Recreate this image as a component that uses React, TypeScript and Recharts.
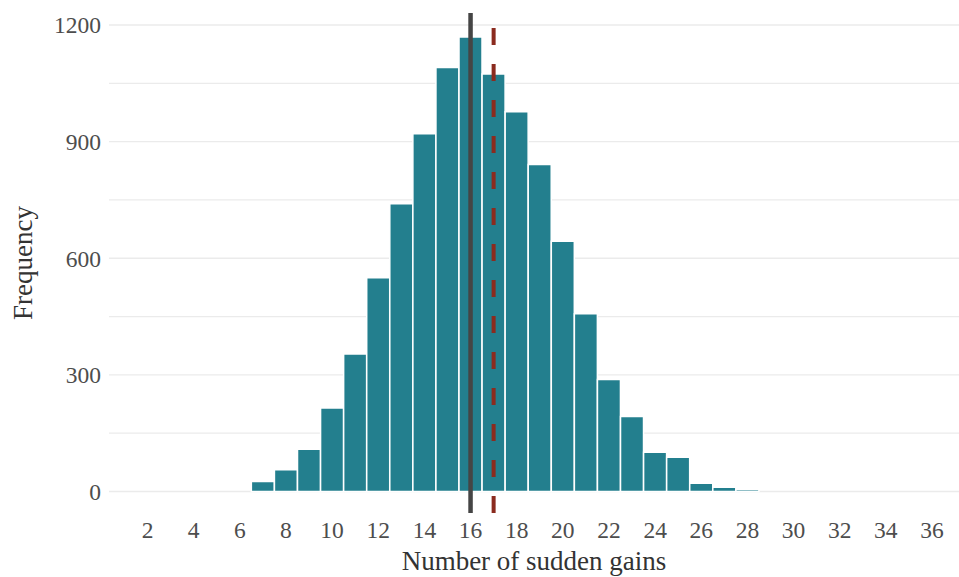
import { Bar, BarChart, CartesianGrid, ReferenceLine, XAxis, YAxis } from "recharts";

// histogram bins (number of sudden gains) and their frequencies
const gains = [4, 5, 6, 7, 8, 9, 10, 11, 12, 13, 14, 15, 16, 17, 18, 19, 20, 21, 22, 23, 24, 25, 26, 27, 28, 29, 30, 31];
const counts = [0, 0, 0, 26, 56, 109, 215, 354, 550, 740, 920, 1091, 1169, 1074, 977, 841, 644, 457, 288, 193, 101, 88, 21, 11, 5, 0, 0, 0];

const xTicks = [2, 4, 6, 8, 10, 12, 14, 16, 18, 20, 22, 24, 26, 28, 30, 32, 34, 36];
const yTicks = [0, 300, 600, 900, 1200];
const yGrid = [0, 150, 300, 450, 600, 750, 900, 1050, 1200];

const medianGains = 16;
const meanGains = 17;

const data = gains.map((g, i) => ({ gain: g, count: counts[i] }));

const FONT = "'Liberation Serif', 'Times New Roman', serif";
const Y_DOMAIN: [number, number] = [-55.3, 1230.9];

export default function App() {
  return (
    <div style={{ position: "absolute", left: 0, top: 0, width: 959, height: 577, background: "#fff" }}>
      <BarChart
        width={959}
        height={577}
        data={data}
        margin={{ top: 13, right: 0, bottom: 0, left: 0 }}
        barCategoryGap={0}
      >
        <CartesianGrid
          vertical={false}
          stroke="#ebebeb"
          strokeWidth={1.3}
          horizontalCoordinatesGenerator={(props: any) => {
            const top = props?.offset?.top ?? 13;
            const h = props?.offset?.height ?? 500;
            const [lo, hi] = Y_DOMAIN;
            return yGrid.map((v) => top + ((hi - v) / (hi - lo)) * h);
          }}
        />
        <XAxis
          dataKey="gain"
          type="number"
          domain={[0.33, 37.17]}
          allowDataOverflow
          ticks={xTicks}
          interval={0}
          height={64}
          axisLine={false}
          tickLine={false}
          tick={{ fill: "#4d4d4d", fontSize: 23.5, fontFamily: FONT }}
          label={{
            content: (props: any) => {
              const vb = props.viewBox;
              return (
                <text
                  x={vb.x + vb.width / 2}
                  y={570}
                  textAnchor="middle"
                  fill="#333"
                  fontSize={27}
                  fontFamily={FONT}
                >
                  Number of sudden gains
                </text>
              );
            }
          }}
        />
        <YAxis
          type="number"
          domain={Y_DOMAIN}
          allowDataOverflow
          ticks={yTicks}
          interval={0}
          width={109}
          axisLine={false}
          tickLine={false}
          tick={{ fill: "#4d4d4d", fontSize: 23.5, fontFamily: FONT }}
          label={{
            content: (props: any) => {
              const vb = props.viewBox;
              const cx = 32;
              const cy = vb.y + vb.height / 2;
              return (
                <text
                  x={cx}
                  y={cy}
                  transform={`rotate(-90, ${cx}, ${cy})`}
                  textAnchor="middle"
                  fill="#333"
                  fontSize={27}
                  fontFamily={FONT}
                >
                  Frequency
                </text>
              );
            }
          }}
        />
        <Bar dataKey="count" fill="#237f8e" stroke="#ffffff" strokeWidth={1.5} isAnimationActive={false} />
        <ReferenceLine x={medianGains} stroke="#454545" strokeWidth={4.5} />
        <ReferenceLine x={meanGains} stroke="#8b2b1f" strokeWidth={4} strokeDasharray="17 19" />
      </BarChart>
    </div>
  );
}
